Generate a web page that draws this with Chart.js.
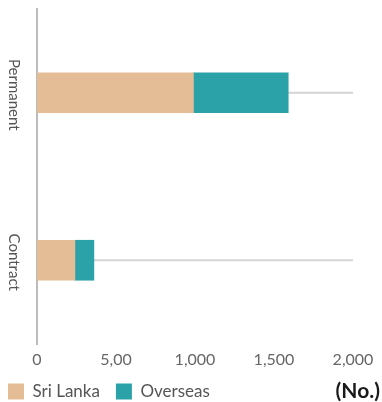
<!DOCTYPE html>
<html>
<head>
<meta charset="utf-8">
<script src="https://cdn.jsdelivr.net/npm/chart.js@4"></script>
<style>
  body { margin: 0; background: #fff; }
  #wrap { width: 382px; height: 402px; position: relative; }
</style>
</head>
<body>
<div id="wrap"><canvas id="chartEmployees"></canvas></div>
<script>
// data
const categories = ["Permanent", "Contract"];
const sriLanka = [990, 240];
const overseas = [600, 120];
const xTickLabels = ["0", "5,00", "1,000", "1,500", "2,000"];
const unitLabel = "(No.)";
const trackMax = 2000;

// grey track lines behind bars + rotated category labels + unit
const extras = {
  id: "extras",
  beforeDatasetsDraw(chart) {
    const c = chart.ctx, x = chart.scales.x, y = chart.scales.y;
    c.save();
    c.strokeStyle = "#d4d4d4";
    c.lineWidth = 2;
    categories.forEach((cat, i) => {
      const py = y.getPixelForValue(i);
      c.beginPath();
      c.moveTo(x.getPixelForValue(0), py);
      c.lineTo(x.getPixelForValue(trackMax), py);
      c.stroke();
    });
    c.restore();
  },
  afterDraw(chart) {
    const c = chart.ctx, y = chart.scales.y;
    c.save();
    c.font = "15px Lato";
    c.fillStyle = "#555";
    c.textAlign = "center";
    c.textBaseline = "middle";
    categories.forEach((cat, i) => {
      c.save();
      c.translate(14, y.getPixelForValue(i) + 2);
      c.rotate(Math.PI / 2);
      c.fillText(cat, 0, 0);
      c.restore();
    });
    c.font = "bold 21px Lato";
    c.fillStyle = "#1a1a1a";
    c.textAlign = "right";
    c.fillText(unitLabel, chart.width - 2, 391);
    c.restore();
  }
};

const ctx = document.getElementById("chartEmployees").getContext("2d");
const myChart = new Chart(ctx, {
  type: "bar",
  plugins: [extras],
  data: {
    labels: categories,
    datasets: [
      { label: "Sri Lanka", data: sriLanka, backgroundColor: "#E4BD96", barThickness: 40 },
      { label: "Overseas", data: overseas, backgroundColor: "#2AA2A8", barThickness: 40 }
    ]
  },
  options: {
    indexAxis: "y",
    responsive: true,
    maintainAspectRatio: false,
    animation: false,
    layout: { padding: { top: 9, right: 29, left: -8, bottom: -8 } },
    plugins: {
      legend: {
        position: "bottom",
        align: "start",
        labels: {
          boxWidth: 16,
          boxHeight: 16,
          padding: 16,
          color: "#555",
          font: { family: "Lato", size: 17 }
        }
      },
      tooltip: { enabled: false }
    },
    scales: {
      x: {
        stacked: true,
        min: 0,
        max: 2000,
        grid: { display: false },
        border: { display: false },
        ticks: {
          stepSize: 500,
          color: "#666",
          padding: -2,
          font: { family: "Lato", size: 16 },
          callback: (v, i) => xTickLabels[i]
        },
        afterFit: (s) => { s.height = 23; }
      },
      y: {
        stacked: true,
        grid: { display: false, drawTicks: false },
        border: { color: "#bbb", width: 2 },
        ticks: { display: false },
        afterFit: (s) => { s.width = 45; }
      }
    }
  }
});
</script>
</body>
</html>
